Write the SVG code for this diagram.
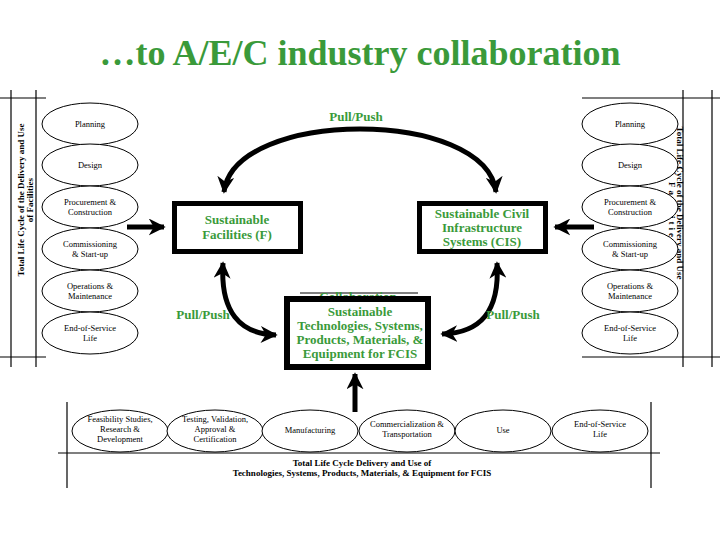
<svg xmlns="http://www.w3.org/2000/svg" width="720" height="540" viewBox="0 0 720 540">
<style>
text{font-family:"Liberation Serif","Times New Roman","DejaVu Serif",serif}
.t{font-size:8.5px;fill:#000;text-anchor:middle}
.vt{font-size:9px;font-weight:bold;fill:#000;text-anchor:middle}
.g{font-size:13px;font-weight:bold;fill:#3a9a3a;text-anchor:middle}
.title{font-size:36px;font-weight:bold;fill:#3a9a3a;text-anchor:middle}
.el{fill:#fff;stroke:#000;stroke-width:1}
.ln{stroke:#000;stroke-width:1.2;fill:none}
.box{fill:#fff;stroke:#000;stroke-width:5}
.arc{fill:none;stroke:#000;stroke-width:5}
</style>
<defs>
<marker id="ah" viewBox="0 0 10 10" refX="9" refY="5" markerWidth="3.4" markerHeight="3.4" orient="auto-start-reverse" markerUnits="strokeWidth">
<path d="M0,0 L10,5 L0,10 L3,5 Z" fill="#000"/>
</marker>
</defs>
<rect width="720" height="540" fill="#fff"/>
<text class="title" x="360" y="65">…to A/E/C industry collaboration</text>

<g id="left-frame">
<line class="ln" x1="0" y1="98" x2="46" y2="98"/>
<line class="ln" x1="0" y1="357" x2="46" y2="357"/>
<line class="ln" x1="11" y1="90" x2="11" y2="367"/>
<line class="ln" x1="36" y1="90" x2="36" y2="367"/>
<text class="vt" transform="translate(24,200) rotate(-90)">Total Life Cycle of the Delivery and Use</text>
<text class="vt" transform="translate(33,200) rotate(-90)">of Facilities</text>
</g>

<g id="right-frame">
<line class="ln" x1="582" y1="98" x2="720" y2="98"/>
<line class="ln" x1="582" y1="357" x2="720" y2="357"/>
<line class="ln" x1="683" y1="90" x2="683" y2="367"/>
<line class="ln" x1="712" y1="90" x2="712" y2="367"/>
<text class="vt" transform="translate(669,205) rotate(90)" style="letter-spacing:3px">of Facilities</text>
<text class="vt" transform="translate(677,203) rotate(90)">Total Life Cycle of the Delivery and Use</text>
</g>

<g id="left-stages">
<ellipse class="el" cx="90" cy="124" rx="48" ry="21"/><text class="t" x="90" y="127">Planning</text>
<ellipse class="el" cx="90" cy="165" rx="48" ry="21"/><text class="t" x="90" y="168">Design</text>
<ellipse class="el" cx="90" cy="207" rx="48" ry="21"/><text class="t" x="90" y="205">Procurement &amp;</text><text class="t" x="90" y="215">Construction</text>
<ellipse class="el" cx="90" cy="249" rx="48" ry="21"/><text class="t" x="90" y="247">Commissioning</text><text class="t" x="90" y="257">&amp; Start-up</text>
<ellipse class="el" cx="90" cy="291" rx="48" ry="21"/><text class="t" x="90" y="289">Operations &amp;</text><text class="t" x="90" y="299">Maintenance</text>
<ellipse class="el" cx="90" cy="333" rx="48" ry="21"/><text class="t" x="90" y="331">End-of-Service</text><text class="t" x="90" y="341">Life</text>
</g>

<g id="right-stages">
<ellipse class="el" cx="630" cy="124" rx="48" ry="21"/><text class="t" x="630" y="127">Planning</text>
<ellipse class="el" cx="630" cy="165" rx="48" ry="21"/><text class="t" x="630" y="168">Design</text>
<ellipse class="el" cx="630" cy="207" rx="48" ry="21"/><text class="t" x="630" y="205">Procurement &amp;</text><text class="t" x="630" y="215">Construction</text>
<ellipse class="el" cx="630" cy="249" rx="48" ry="21"/><text class="t" x="630" y="247">Commissioning</text><text class="t" x="630" y="257">&amp; Start-up</text>
<ellipse class="el" cx="630" cy="291" rx="48" ry="21"/><text class="t" x="630" y="289">Operations &amp;</text><text class="t" x="630" y="299">Maintenance</text>
<ellipse class="el" cx="630" cy="333" rx="48" ry="21"/><text class="t" x="630" y="331">End-of-Service</text><text class="t" x="630" y="341">Life</text>
</g>

<g id="bottom-frame">
<line class="ln" x1="58" y1="453" x2="660" y2="453"/>
<line class="ln" x1="67" y1="402" x2="67" y2="488"/>
<line class="ln" x1="651" y1="402" x2="651" y2="488"/>
<text class="vt" x="362" y="466">Total Life Cycle Delivery and Use of</text>
<text class="vt" x="362" y="476">Technologies, Systems, Products, Materials, &amp; Equipment for FCIS</text>
</g>

<g id="bottom-stages">
<ellipse class="el" cx="120" cy="431" rx="48" ry="21"/><text class="t" x="120" y="422">Feasibility Studies,</text><text class="t" x="120" y="432">Research &amp;</text><text class="t" x="120" y="442">Development</text>
<ellipse class="el" cx="215" cy="431" rx="48" ry="21"/><text class="t" x="215" y="422">Testing, Validation,</text><text class="t" x="215" y="432">Approval &amp;</text><text class="t" x="215" y="442">Certification</text>
<ellipse class="el" cx="310" cy="431" rx="48" ry="21"/><text class="t" x="310" y="433">Manufacturing</text>
<ellipse class="el" cx="407" cy="431" rx="48" ry="21"/><text class="t" x="407" y="427">Commercialization &amp;</text><text class="t" x="407" y="437">Transportation</text>
<ellipse class="el" cx="503" cy="431" rx="48" ry="21"/><text class="t" x="503" y="433">Use</text>
<ellipse class="el" cx="600" cy="431" rx="48" ry="21"/><text class="t" x="600" y="427">End-of-Service</text><text class="t" x="600" y="437">Life</text>
</g>

<g id="connectors">
<path class="arc" d="M224 192 C234 108, 486 108, 496 192" marker-start="url(#ah)" marker-end="url(#ah)"/>
<path class="arc" d="M223 263 C220 312, 240 334, 276 335" marker-start="url(#ah)" marker-end="url(#ah)"/>
<path class="arc" d="M497 263 C500 312, 480 333, 442 334" marker-start="url(#ah)" marker-end="url(#ah)"/>
<line class="arc" x1="127" y1="227" x2="164" y2="227" marker-end="url(#ah)"/>
<line class="arc" x1="594" y1="227" x2="555" y2="227" marker-end="url(#ah)"/>
<line class="arc" x1="355" y1="412" x2="355" y2="374" marker-end="url(#ah)"/>
<text class="g" x="356" y="121">Pull/Push</text>
<text class="g" x="203" y="319">Pull/Push</text>
<text class="g" x="513" y="319">Pull/Push</text>
</g>

<g id="facilities">
<rect class="box" x="174.5" y="203.5" width="126" height="48"/>
<text class="g" x="237" y="224">Sustainable</text>
<text class="g" x="237" y="239">Facilities (F)</text>
</g>

<g id="cis">
<rect class="box" x="419.5" y="203.5" width="126" height="48"/>
<text class="g" x="482" y="218">Sustainable Civil</text>
<text class="g" x="482" y="232">Infrastructure</text>
<text class="g" x="482" y="246">Systems (CIS)</text>
</g>

<g id="technologies">
<line x1="300" y1="293" x2="418" y2="293" stroke="#000" stroke-width="1"/>
<text class="g" x="358" y="301">Collaboration</text>
<rect x="287" y="299" width="141" height="68" fill="#fff" stroke="#000" stroke-width="6"/>
<text class="g" x="360" y="316">Sustainable</text>
<text class="g" x="360" y="330">Technologies, Systems,</text>
<text class="g" x="360" y="344">Products, Materials, &amp;</text>
<text class="g" x="360" y="358">Equipment for FCIS</text>
</g>
</svg>
